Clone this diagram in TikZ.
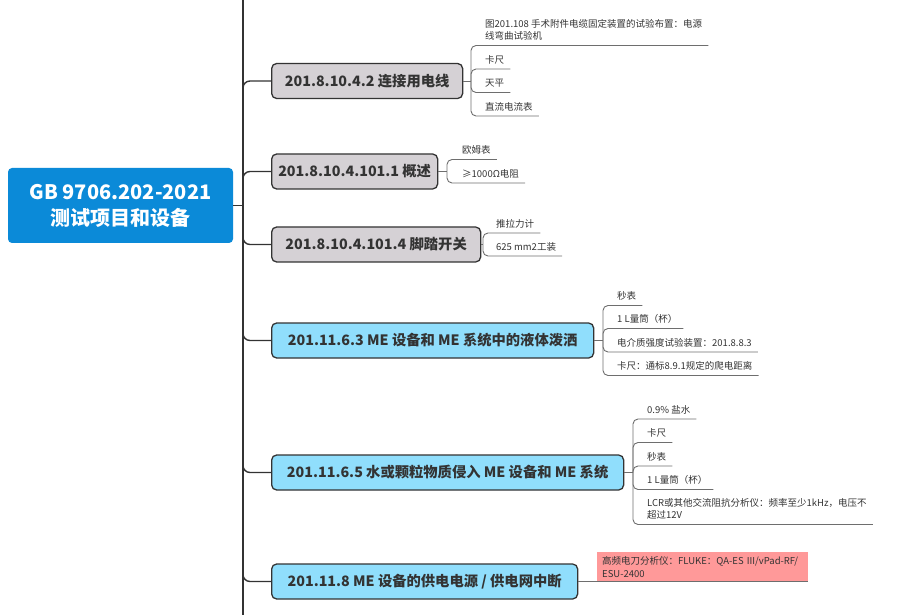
\documentclass[tikz,border=0pt]{standalone}
\usepackage{fontspec}
\setmainfont{Noto Sans CJK SC}
\definecolor{rootblue}{RGB}{11,138,216}
\definecolor{grayfill}{RGB}{213,209,213}
\definecolor{bluefill}{RGB}{144,222,252}
\definecolor{pinkfill}{RGB}{255,153,153}
\definecolor{ink}{RGB}{51,51,51}
\definecolor{leafline}{RGB}{110,110,110}
\tikzset{
  rootbox/.style={draw=none,fill=rootblue,rounded corners=4pt,minimum width=225pt,minimum height=75pt,
    text=white,font=\fontsize{20}{26}\selectfont\bfseries,align=center,inner sep=0pt},
  topicbox/.style={draw=ink,line width=1.3pt,rounded corners=5pt,anchor=west,minimum height=35pt,
    text=ink,font=\fontsize{14.3}{17}\selectfont\bfseries,inner sep=0pt},
  graybox/.style={topicbox,fill=grayfill},
  bluebox/.style={topicbox,fill=bluefill},
  leaf/.style={anchor=south west,inner xsep=0pt,inner ysep=5.5pt,text depth=0pt,text=ink,
    font=\fontsize{9.5}{12.5}\selectfont,align=left},
  trunk/.style={draw=ink,line width=1.4pt,rounded corners=7pt},
  leafln/.style={draw=leafline,line width=0.9pt,rounded corners=5pt},
}
\begin{document}
\begin{tikzpicture}[x=1pt,y=-1pt]
\useasboundingbox (0,0) rectangle (898,615);
% root and spine
\node[rootbox] (root) at (120.5,205.5) {GB 9706.202-2021\\测试项目和设备};
\coordinate (S) at (243,205.5);
\coordinate (Stop) at (243,0);
\coordinate (Sbot) at (243,615);
\draw[trunk] (Stop) -- (Sbot);
\draw[trunk] (root.east) -- (S);
% topic boxes
\node[graybox,minimum width=191pt] (b1) at (271,81) {201.8.10.4.2 连接用电线};
\node[graybox,minimum width=166pt] (b2) at (271,171.5) {201.8.10.4.101.1 概述};
\node[graybox,minimum width=209pt] (b3) at (271,244.5) {201.8.10.4.101.4 脚踏开关};
\node[bluebox,minimum width=322pt] (b4) at (271,340.5) {201.11.6.3 ME 设备和 ME 系统中的液体泼洒};
\node[bluebox,minimum width=352pt] (b5) at (271,472.5) {201.11.6.5 水或颗粒物质侵入 ME 设备和 ME 系统};
\node[bluebox,minimum width=306pt] (b6) at (271,581.5) {201.11.8 ME 设备的供电电源 / 供电网中断};
\foreach \b in {b1,b2,b3,b4,b5,b6}{\draw[trunk] (S) |- (\b.west);}
% group 1
\coordinate (J1) at (471,81);
\draw[leafln] (b1.east) -- (J1);
\node[leaf] (l11) at (485,45.5) {图201.108 手术附件电缆固定装置的试验布置：电源\\线弯曲试验机};
\node[leaf] (l12) at (485,69) {卡尺};
\node[leaf] (l13) at (485,92.5) {天平};
\node[leaf] (l14) at (485,116) {直流电流表};
\foreach \l in {l11,l12,l13,l14}{\draw[leafln] (J1) |- (\l.south west) -- ([xshift=6pt]\l.south east);}
% group 2
\coordinate (J2) at (447,171.5);
\draw[leafln] (b2.east) -- (J2);
\node[leaf] (l21) at (462,159.5) {欧姆表};
\node[leaf] (l22) at (462,183) {≥1000Ω电阻};
\foreach \l in {l21,l22}{\draw[leafln] (J2) |- (\l.south west) -- ([xshift=6pt]\l.south east);}
% group 3
\coordinate (J3) at (483,244.5);
\draw[leafln] (b3.east) -- (J3);
\node[leaf] (l31) at (496,233) {推拉力计};
\node[leaf] (l32) at (496,256) {625 mm2工装};
\foreach \l in {l31,l32}{\draw[leafln] (J3) |- (\l.south west) -- ([xshift=6pt]\l.south east);}
% group 4
\coordinate (J4) at (603,340.5);
\draw[leafln] (b4.east) -- (J4);
\node[leaf] (l41) at (617,305.5) {秒表};
\node[leaf] (l42) at (617,328.5) {1 L量筒（杯）};
\node[leaf] (l43) at (617,352) {电介质强度试验装置：201.8.8.3};
\node[leaf] (l44) at (617,375.5) {卡尺：通标8.9.1规定的爬电距离};
\foreach \l in {l41,l42,l43,l44}{\draw[leafln] (J4) |- (\l.south west) -- ([xshift=6pt]\l.south east);}
% group 5
\coordinate (J5) at (633,472.5);
\draw[leafln] (b5.east) -- (J5);
\node[leaf] (l51) at (647,419) {0.9\% 盐水};
\node[leaf] (l52) at (647,442.5) {卡尺};
\node[leaf] (l53) at (647,466) {秒表};
\node[leaf] (l54) at (647,489.5) {1 L量筒（杯）};
\node[leaf] (l55) at (647,524.5) {LCR或其他交流阻抗分析仪：频率至少1kHz，电压不\\超过12V};
\foreach \l in {l51,l52,l53,l54,l55}{\draw[leafln] (J5) |- (\l.south west) -- ([xshift=6pt]\l.south east);}
% group 6
\node[anchor=south west,fill=pinkfill,minimum width=211pt,minimum height=29pt,inner xsep=5pt,inner ysep=3pt,
  text=ink,font=\fontsize{9.5}{13}\selectfont,align=left,text width=201pt] (l61) at (597,581.5)
  {高频电刀分析仪：FLUKE：QA-ES III/vPad-RF/\\ESU-2400};
\draw[leafln] (b6.east) -- (l61.south west) -- (l61.south east);
\end{tikzpicture}
\end{document}
